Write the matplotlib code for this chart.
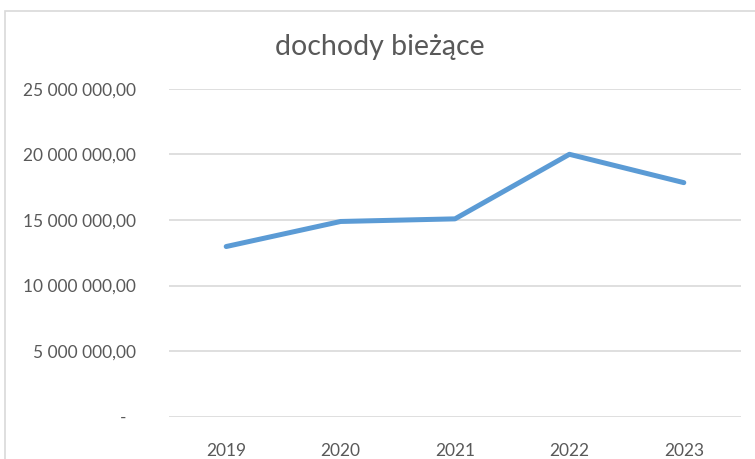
import matplotlib.pyplot as plt
from matplotlib.patches import Rectangle

# data
years = ["2019", "2020", "2021", "2022", "2023"]
dochody = [12970000, 14880000, 15080000, 20000000, 17840000]
y_ticks = [0, 5000000, 10000000, 15000000, 20000000, 25000000]
title = "dochody bieżące"


def pl_format(v):
    if v == 0:
        return "-  "
    return f"{v:,.2f}".replace(",", " ").replace(".", ",")


plt.rcParams['font.family'] = ['Lato', 'DejaVu Sans']

fig = plt.figure(figsize=(7.55, 4.59), dpi=100)
ax = fig.add_axes([169 / 755, 1 - 416.7 / 459, 572 / 755, (416.7 - 88.7) / 459])

x = range(len(years))
ax.plot(x, dochody, color="#5B9BD5", linewidth=3.6, solid_capstyle="round", solid_joinstyle="round", zorder=3)

ax.set_xlim(-0.5, len(years) - 0.5)
ax.set_ylim(0, 25000000)
ax.set_xticks(list(x))
ax.set_xticklabels(years)
ax.set_yticks(y_ticks)
ax.set_yticklabels([pl_format(v) for v in y_ticks])

ax.grid(axis="y", color="#D9D9D9", linewidth=1.2)
ax.set_axisbelow(True)
for s in ax.spines.values():
    s.set_visible(False)
ax.tick_params(axis="both", length=0, colors="#595959", labelsize=12.5)
ax.tick_params(axis="y", pad=24)
ax.tick_params(axis="x", pad=19)

# chart title
fig.text(380 / 755, 1 - 47 / 459, title, ha="center", va="center", fontsize=20.5, color="#595959")

# chart area border (right and bottom edges are cut off in the reference)
fig.patches.append(Rectangle((5 / 755, -0.05), 1.1, 1 - 11 / 459 + 0.05, transform=fig.transFigure,
                             fill=False, edgecolor="#D9D9D9", linewidth=1.2))

fig.savefig("out.png", dpi=100)
